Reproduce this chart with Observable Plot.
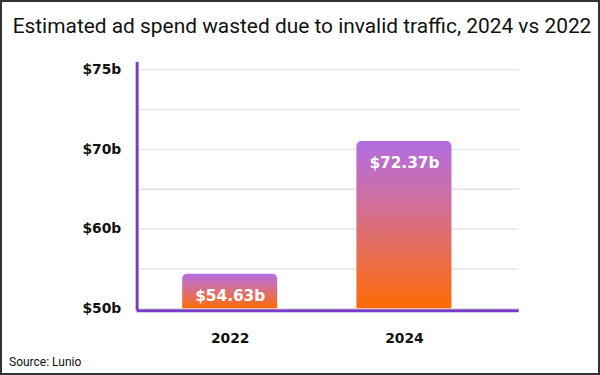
<!DOCTYPE html>
<html>
<head>
<meta charset="utf-8">
<script src="https://cdn.jsdelivr.net/npm/d3@7"></script>
<script src="https://cdn.jsdelivr.net/npm/@observablehq/plot@0.6"></script>
<style>
  html, body { margin: 0; padding: 0; background: #fff; }
  #wrap { position: relative; width: 600px; height: 375px; box-sizing: border-box; border: 2px solid #333; overflow: hidden; background: #fff; }
  #title { position: absolute; left: 0; top: 12px; width: 600px; text-align: center; font-family: Roboto, sans-serif; font-size: 20.9px; color: #111; white-space: nowrap; }
  #chart { position: absolute; left: -2px; top: 38px; }
  #source { position: absolute; left: 7px; top: 353px; font-family: Roboto, sans-serif; font-size: 12px; color: #111; }
</style>
</head>
<body>
<div id="wrap">
  <div id="title">Estimated ad spend wasted due to invalid traffic, 2024 vs 2022</div>
  <div id="chart"></div>
  <div id="source">Source: Lunio</div>
</div>
<script>
const years = ["2022", "2024"];
const spend = [54.63, 72.37];
const barLabels = ["$54.63b", "$72.37b"];
const gridValues = [50, 55.33, 60.67, 66, 71.33, 76.67, 82];
const tickValues = [50, 60.67, 71.33, 82];
const tickLabels = ["$50b", "$60b", "$70b", "$75b"];

const data = years.map((y, i) => ({year: y, value: spend[i], label: barLabels[i]}));
const tickLabelOf = new Map(tickValues.map((v, i) => [v, tickLabels[i]]));

const purple = "#7a3cc6";

function gradientDefs() {
  const ns = "http://www.w3.org/2000/svg";
  const defs = document.createElementNS(ns, "defs");
  const g = document.createElementNS(ns, "linearGradient");
  g.setAttribute("id", "barGrad");
  g.setAttribute("x1", "0"); g.setAttribute("y1", "0");
  g.setAttribute("x2", "0"); g.setAttribute("y2", "1");
  [[0, "#b36de3"], [0.35, "#cf6fa0"], [0.62, "#e46e60"], [1, "#ff6a05"]].forEach(([o, c]) => {
    const s = document.createElementNS(ns, "stop");
    s.setAttribute("offset", o);
    s.setAttribute("stop-color", c);
    g.appendChild(s);
  });
  defs.appendChild(g);
  return defs;
}

const chart = Plot.plot({
  width: 604,
  height: 315,
  marginLeft: 138,
  marginRight: 80,
  marginTop: 23,
  marginBottom: 44,
  style: {background: "transparent", overflow: "visible"},
  x: {domain: years, paddingInner: 0.4545, paddingOuter: 0.3237, align: 0.4035, axis: null, label: null},
  y: {domain: [50, 82.85], axis: null, label: null},
  marks: [
    gradientDefs,
    Plot.gridY(gridValues, {stroke: "#e4e4e4", strokeOpacity: 1, strokeWidth: 1.5}),
    Plot.barY(data, {x: "year", y1: 50, y2: "value", fill: "url(#barGrad)", rx: 5, ry1: 5}),
    Plot.text(data, {x: "year", y: "value", text: "label", dy: 22, fill: "#fff", fontSize: 15.5, fontWeight: "bold", fontFamily: "DejaVu Sans"}),
    Plot.ruleY([50], {stroke: purple, strokeWidth: 3, dy: 2}),
    Plot.frame({anchor: "left", stroke: purple, strokeWidth: 3}),
    Plot.axisY(tickValues, {label: null, tickSize: 0, tickPadding: 16, tickFormat: d => tickLabelOf.get(d), fontSize: 14, fontWeight: "bold", fontFamily: "DejaVu Sans", fill: "#111"}),
    Plot.axisX({label: null, tickSize: 0, tickPadding: 25, fontSize: 14, fontWeight: "bold", fontFamily: "DejaVu Sans", fill: "#111"})
  ]
});
document.getElementById("chart").appendChild(chart);
</script>
</body>
</html>
